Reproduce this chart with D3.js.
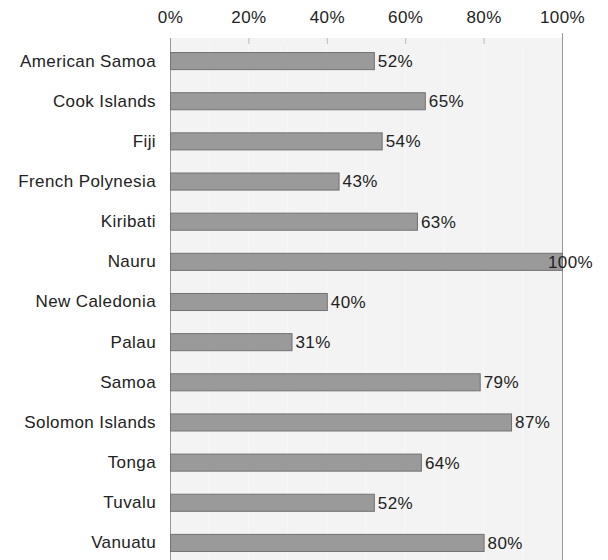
<!DOCTYPE html>
<html><head><meta charset="utf-8">
<script src="https://cdn.jsdelivr.net/npm/d3@7"></script>
<style>body{margin:0;background:#fff}svg{display:block}text{font-family:"Liberation Sans",Arial,sans-serif;letter-spacing:0.4px}</style>
</head><body>
<svg id="c" width="608" height="560"></svg>
<script>
const categories = ["American Samoa","Cook Islands","Fiji","French Polynesia","Kiribati","Nauru","New Caledonia","Palau","Samoa","Solomon Islands","Tonga","Tuvalu","Vanuatu"];
const values = [52,65,54,43,63,100,40,31,79,87,64,52,80];
const tickValues = [0,20,40,60,80,100];
const tickLabels = ["0%","20%","40%","60%","80%","100%"];

const svg = d3.select("#c");
const x = d3.scaleLinear().domain([0,100]).range([170,562]);
const y = d3.scaleBand().domain(categories).range([41,563]).paddingInner(0.55).paddingOuter(0.275);

// plot background
svg.append("rect").attr("x",x(0)).attr("y",38).attr("width",x(100)-x(0)).attr("height",560-38).attr("fill","#f3f3f3");
// faint minor grid
svg.append("g").selectAll("line").data(d3.range(10,100,10)).join("line")
  .attr("x1",d=>x(d)).attr("x2",d=>x(d)).attr("y1",44).attr("y2",560)
  .attr("stroke","#f8f8f8").attr("stroke-width",1);

// top axis
const ax = svg.append("g").attr("transform","translate(0,38)")
  .call(d3.axisTop(x).tickValues(tickValues).tickFormat((d,i)=>tickLabels[i]).tickSize(0).tickPadding(0));
ax.select(".domain").remove();
ax.selectAll("text").attr("y",-15).attr("font-size",17).attr("fill","#222");
// small tick marks
svg.append("g").selectAll("line").data(tickValues.slice(1,5)).join("line")
  .attr("x1",d=>x(d)+0.5).attr("x2",d=>x(d)+0.5).attr("y1",38).attr("y2",44)
  .attr("stroke","#bbb");
// axis line and right border
svg.append("line").attr("x1",x(0)+0.5).attr("x2",x(0)+0.5).attr("y1",38).attr("y2",560).attr("stroke","#999");
svg.append("line").attr("x1",x(100)+0.5).attr("x2",x(100)+0.5).attr("y1",33).attr("y2",560).attr("stroke","#999");

// y axis labels
const ay = svg.append("g").attr("transform",`translate(${x(0)},0)`)
  .call(d3.axisLeft(y).tickSize(0).tickPadding(14));
ay.select(".domain").remove();
ay.selectAll("text").attr("font-size",17).attr("fill","#222");

// bars
svg.append("g").selectAll("rect").data(values).join("rect")
  .attr("x",x(0)+0.5).attr("y",(d,i)=>y(categories[i])+0.5)
  .attr("width",d=>x(d)-x(0)).attr("height",y.bandwidth()-1)
  .attr("fill","#9a9a9a").attr("stroke","#727272").attr("stroke-width",1);

// value labels
svg.append("g").selectAll("text").data(values).join("text")
  .attr("x",d=>Math.min(x(d)+4,548))
  .attr("y",(d,i)=>y(categories[i])+y.bandwidth()/2)
  .attr("dy","0.35em").attr("font-size",17).attr("fill","#222")
  .text(d=>d+"%");
</script>
</body></html>
